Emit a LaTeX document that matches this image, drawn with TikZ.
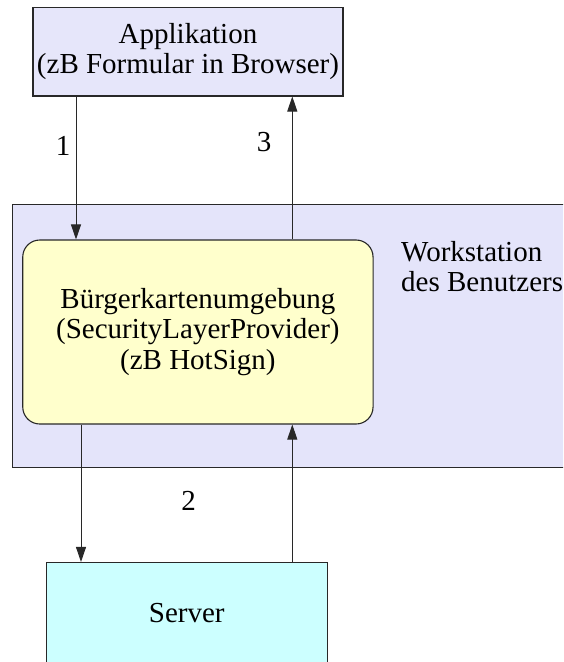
\documentclass[tikz,border=0pt]{standalone}
\usepackage{fontspec}
\setmainfont{Liberation Serif}
\newfontfamily\labelfont{Liberation Serif}
\usetikzlibrary{arrows.meta}
\definecolor{appfill}{RGB}{230,230,250}
\definecolor{wsfill}{RGB}{228,228,250}
\definecolor{blpfill}{RGB}{255,255,204}
\definecolor{srvfill}{RGB}{204,255,255}
\definecolor{edge}{RGB}{40,40,40}
\tikzset{
  txt/.style={font=\labelfont\fontsize{29}{30.5}\selectfont},
  box/.style={draw=edge, line width=1.1pt, inner sep=0pt, align=center, txt},
  flow/.style={draw=edge, line width=0.9pt,
    -{Triangle[length=15pt,width=10pt]}},
  num/.style={inner sep=0pt, txt}
}
\begin{document}
\begin{tikzpicture}[x=1pt,y=-1pt]
\useasboundingbox (0,0) rectangle (563,662);
\clip (0,0) rectangle (563,662);

% user workstation area (runs past the right and is clipped)
\node[box, fill=wsfill, minimum width=590pt, minimum height=263pt, anchor=north west]
  (ws) at (12.3,204.3) {};
\node[inner sep=0pt, anchor=west, align=left, txt]
  (wslabel) at (401,266.5) {Workstation\\des Benutzers};

% application
\node[box, fill=appfill, minimum width=310pt, minimum height=88.5pt]
  (app) at (188,51.7) {Applikation\\(zB Formular in Browser)};

% citizen card environment
\node[box, fill=blpfill, rounded corners=17pt, minimum width=350.3pt, minimum height=184pt]
  (bke) at (197.9,332) {B\"urgerkartenumgebung\\(SecurityLayerProvider)\\(zB HotSign)};

% server
\node[box, fill=srvfill, minimum width=281pt, minimum height=102pt]
  (srv) at (186.8,613.5) {Server};

% connector columns
\coordinate (xa) at (76,0);
\coordinate (xb) at (81,0);
\coordinate (xc) at (292.3,0);

\draw[flow] (app.south -| xa) -- (bke.north -| xa);
\draw[flow] (bke.north -| xc) -- (app.south -| xc);
\draw[flow] (bke.south -| xb) -- (srv.north -| xb);
\draw[flow] (srv.north -| xc) -- (bke.south -| xc);

% step numbers
\node[num] (n1) at (63,146) {1};
\node[num] (n3) at (264,142) {3};
\node[num] (n2) at (188.5,501) {2};
\end{tikzpicture}
\end{document}
